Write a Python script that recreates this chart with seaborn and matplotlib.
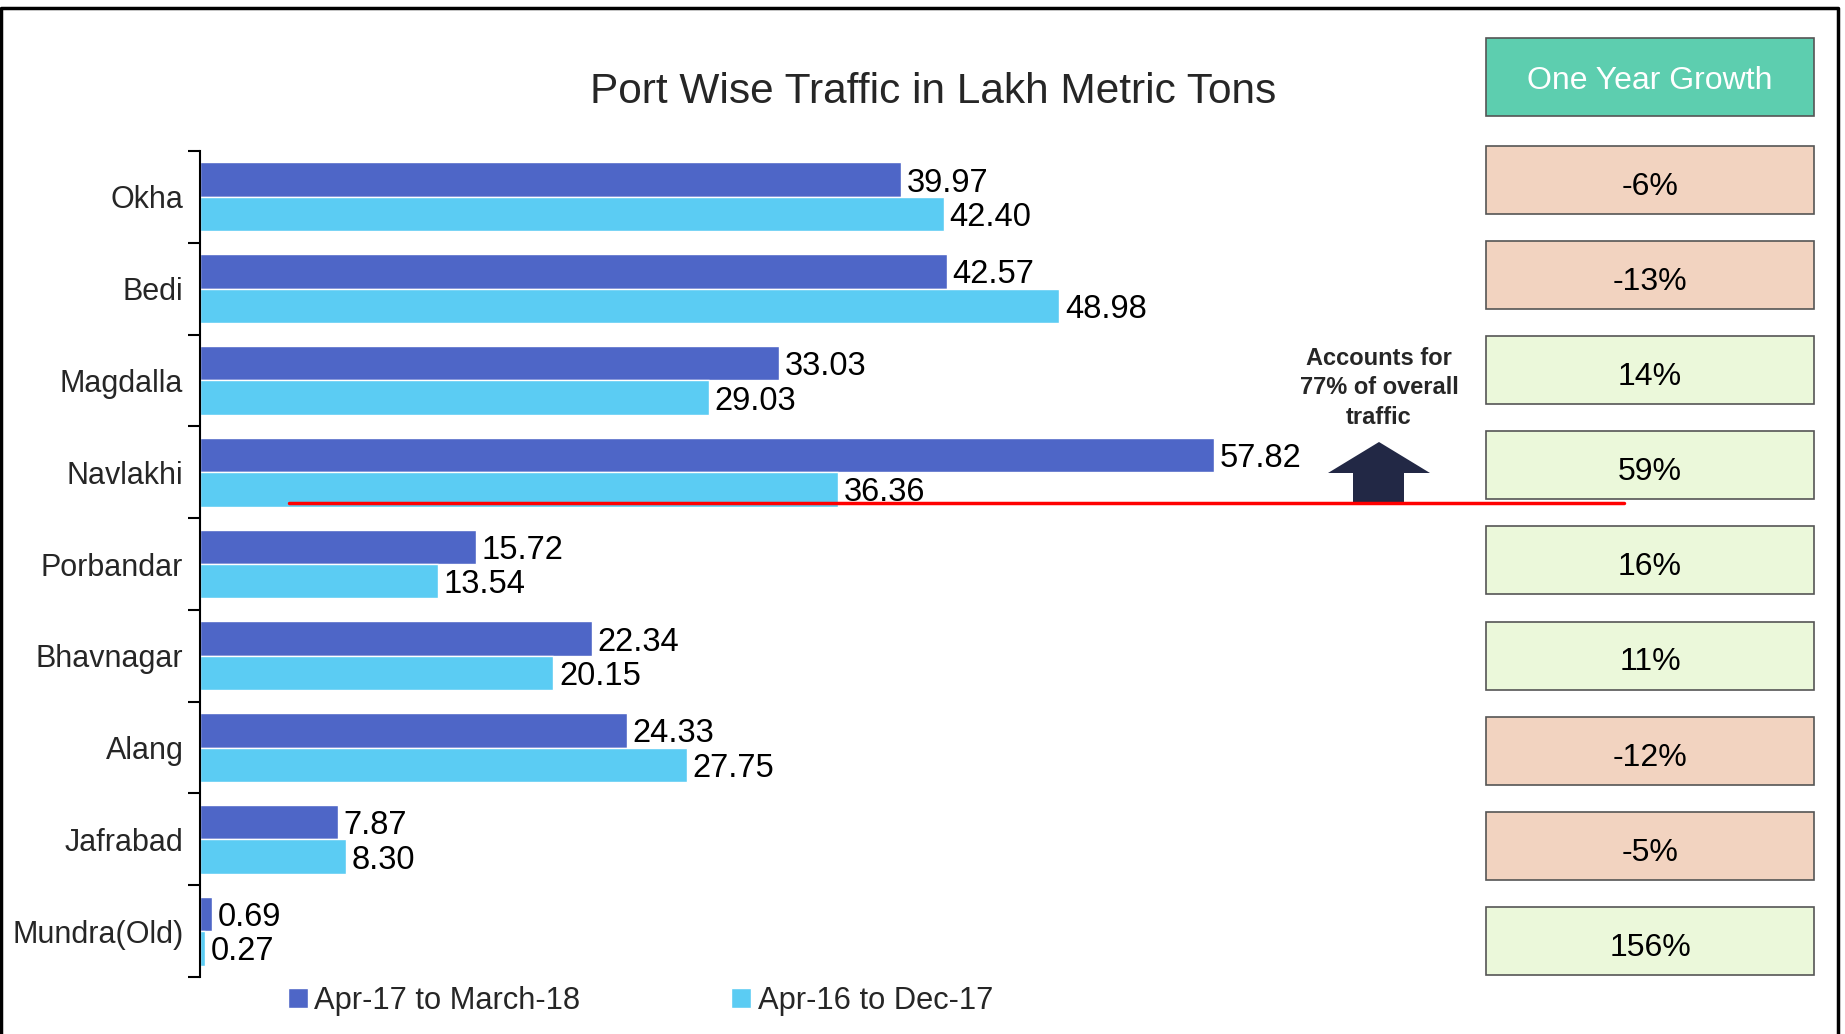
import seaborn as sns
import matplotlib.pyplot as plt
import numpy as np
import pandas as pd
from matplotlib.patches import Rectangle, Polygon, Patch
from matplotlib.lines import Line2D

ports = ["Okha", "Bedi", "Magdalla", "Navlakhi", "Porbandar",
         "Bhavnagar", "Alang", "Jafrabad", "Mundra(Old)"]
traffic_1718 = [39.97, 42.57, 33.03, 57.82, 15.72, 22.34, 24.33, 7.87, 0.69]
traffic_1617 = [42.40, 48.98, 29.03, 36.36, 13.54, 20.15, 27.75, 8.30, 0.27]
growth = [-6, -13, 14, 59, 16, 11, -12, -5, 156]
periods = ["Apr-17 to March-18", "Apr-16 to Dec-17"]

df = pd.DataFrame({
    "port": ports * 2,
    "traffic": traffic_1718 + traffic_1617,
    "period": [periods[0]] * len(ports) + [periods[1]] * len(ports),
})

sns.set_style("white")
plt.rcParams["font.family"] = ["Liberation Sans", "DejaVu Sans"]

W, H = 1845, 1034
fig = plt.figure(figsize=(W / 100, H / 100), dpi=100)

def fx(px):
    return px / W

def fy(py):
    return 1 - py / H

dark = "#4E66C7"
light = "#5BCCF3"

ax = fig.add_axes([fx(200), fy(977), fx(1428) - fx(200), fy(151) - fy(977)])
sns.barplot(data=df, y="port", x="traffic", hue="period", orient="h",
            palette=[dark, light], width=0.75, saturation=1, legend=False, ax=ax)

for c in ax.containers:
    labels = ax.bar_label(c, fmt="%.2f", padding=4, fontsize=23.5, color="black")
    for t in labels:
        t.set_y(t.get_position()[1])
        t.set_va("center_baseline")

ax.set_xlim(0, 70)
ax.set_ylim(8.5, -0.5)
ax.set_xlabel("")
ax.set_ylabel("")
ax.set_xticks([])
for s in ["top", "right", "bottom"]:
    ax.spines[s].set_visible(False)
ax.spines["left"].set_color("black")
ax.spines["left"].set_linewidth(1.5)
ax.set_yticks(range(len(ports)))
ax.set_yticklabels(ports, fontsize=22)
ax.tick_params(axis="y", which="major", length=0, pad=12)
ax.set_yticks(np.arange(-0.5, len(ports), 1), minor=True)
ax.tick_params(axis="y", which="minor", length=8.5, width=1.5, color="black", left=True)

# title
fig.text(fx(933), fy(92), "Port Wise Traffic in Lakh Metric Tons",
         ha="center", va="center", fontsize=30.5)

# legend
handles = [Patch(facecolor=dark), Patch(facecolor=light)]
fig.legend(handles, periods, loc="center left", bbox_to_anchor=(fx(288), fy(1001)),
           ncol=2, frameon=False, fontsize=22.2, handlelength=0.65, handleheight=0.65,
           handletextpad=0.2, columnspacing=4.9, borderpad=0, borderaxespad=0)

# one year growth boxes
bx, bw = 1486, 328
fig.patches.append(Rectangle((fx(bx), fy(116)), fx(bw), fy(38) - fy(116),
                             transform=fig.transFigure, facecolor="#5DCEAF",
                             edgecolor="#555555", linewidth=1.2))
fig.text(fx(bx + bw / 2), fy(81), "One Year Growth", ha="center", va="center",
         fontsize=23, color="white")
for i, g in enumerate(growth):
    top = 146 + i * 95.1
    col = "#F2D3C0" if g < 0 else "#EBF8DA"
    fig.patches.append(Rectangle((fx(bx), fy(top + 68)), fx(bw), fy(top) - fy(top + 68),
                                 transform=fig.transFigure, facecolor=col,
                                 edgecolor="#555555", linewidth=1.2))
    fig.text(fx(bx + bw / 2), fy(top + 41), f"{g}%", ha="center", va="center",
             fontsize=23, color="black")

# red line and arrow for the 77% note
fig.lines.append(Line2D([fx(289), fx(1624)], [fy(503), fy(503)],
                        transform=fig.transFigure, color="#FF0000", linewidth=2.5))
arrow = [(1353, 503), (1353, 473), (1328, 473), (1379, 442), (1430, 473),
         (1404, 473), (1404, 503)]
fig.patches.append(Polygon([(fx(x), fy(y)) for x, y in arrow], closed=True,
                           transform=fig.transFigure, facecolor="#222845",
                           edgecolor="none"))
fig.text(fx(1379), fy(388), "Accounts for\n77% of overall\ntraffic", ha="center",
         va="center", fontsize=17, fontweight="bold", linespacing=1.35)

# outer frame
fig.lines.append(Line2D([fx(1), fx(1), fx(1838), fx(1838)],
                        [fy(1034), fy(8), fy(8), fy(1034)],
                        transform=fig.transFigure, color="black", linewidth=2.5))

fig.savefig("out.png", dpi=100)
